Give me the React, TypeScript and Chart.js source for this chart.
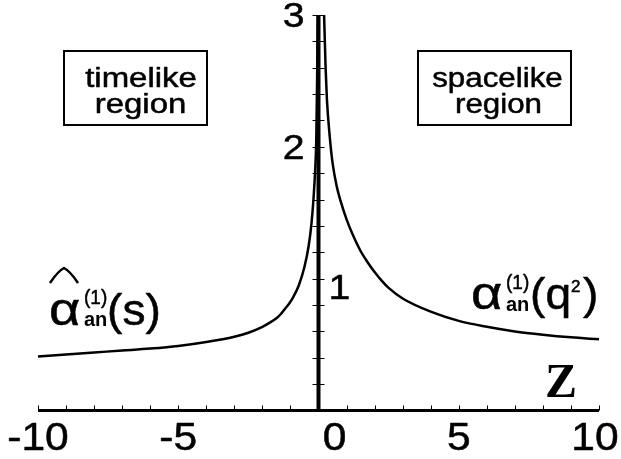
import React, { useEffect, useRef } from "react";
import { Chart, registerables } from "chart.js";

Chart.register(...registerables);

// Spacelike branch  alpha_an^(1)(q^2)
const spacelikeZ = [0.2, 0.25, 0.3, 0.4, 0.5, 0.65, 0.8, 1.0, 1.25, 1.5, 1.75, 2.0, 2.25, 2.5, 3.0, 4.0, 5.0, 6.0, 7.0, 8.0, 9.0, 10];
const spacelikeAlpha = [3.0, 2.62, 2.36, 2.08, 1.88, 1.7, 1.58, 1.45, 1.32, 1.21, 1.125, 1.05, 0.985, 0.93, 0.85, 0.75, 0.68, 0.635, 0.6, 0.575, 0.555, 0.54];

// Timelike branch  hat-alpha_an^(1)(s)
const timelikeZ = [-10, -9, -8, -7, -6, -5, -4, -3, -2.5, -2, -1.75, -1.5, -1.35, -1.2, -1.05, -0.9, -0.7, -0.5, -0.35, -0.25, -0.18, -0.12, -0.08, -0.05, -0.03];
const timelikeAlpha = [0.41, 0.425, 0.44, 0.455, 0.47, 0.49, 0.52, 0.56, 0.59, 0.635, 0.665, 0.7, 0.73, 0.77, 0.81, 0.86, 0.95, 1.09, 1.25, 1.42, 1.6, 1.82, 2.05, 2.5, 3.0];

// Axes
const xMinorTicks = [-10, -9, -8, -7, -6, -5, -4, -3, -2, -1, 0, 1, 2, 3, 4, 5, 6, 7, 8, 9, 10];
const xLabelValues = [-10, -5, 0, 5, 10];
const xLabels = ["-10", "-5", "0", "5", "10"];
const yMinorTicks = [0.2, 0.4, 0.6, 0.8, 1.0, 1.2, 1.4, 1.6, 1.8, 2.0, 2.2, 2.4, 2.6, 2.8, 3.0];
const yLabelValues = [1, 2, 3];
const yLabels = ["1", "2", "3"];
const axisTitle = "Z";
const regionLeft = ["timelike", "region"];
const regionRight = ["spacelike", "region"];

const SANS = '"Liberation Sans", Arial, Helvetica, sans-serif';

function txt(ctx: CanvasRenderingContext2D, s: string, x: number, y: number, font: string, align: CanvasTextAlign, hs = 1, heavy = 0.5) {
  ctx.save();
  ctx.font = font;
  ctx.translate(x, y);
  ctx.scale(hs, 1);
  ctx.textAlign = align;
  ctx.textBaseline = "alphabetic";
  ctx.fillStyle = "#000";
  ctx.fillText(s, 0, 0);
  if (heavy > 0) {
    ctx.strokeStyle = "#000";
    ctx.lineWidth = heavy;
    ctx.lineJoin = "round";
    ctx.strokeText(s, 0, 0);
  }
  ctx.restore();
}

const decorPlugin = {
  id: "decor",
  beforeDatasetsDraw(chart: any) {
    const ctx: CanvasRenderingContext2D = chart.ctx;
    const xs = chart.scales.x;
    const ys = chart.scales.y;
    const x0 = xs.getPixelForValue(0);
    const yb = ys.getPixelForValue(0);
    const yt = ys.getPixelForValue(3);
    const xl = xs.getPixelForValue(-10);
    const xr = xs.getPixelForValue(10);
    ctx.save();
    ctx.strokeStyle = "#000";
    // x axis
    ctx.lineWidth = 3;
    ctx.beginPath();
    ctx.moveTo(xl, yb);
    ctx.lineTo(xr, yb);
    ctx.stroke();
    // x ticks
    ctx.lineWidth = 1;
    xMinorTicks.forEach((v) => {
      const px = Math.round(xs.getPixelForValue(v)) + 0.5;
      ctx.beginPath();
      ctx.moveTo(px, yb);
      ctx.lineTo(px, yb - 5);
      ctx.stroke();
    });
    // y axis
    ctx.lineWidth = 4;
    ctx.beginPath();
    ctx.moveTo(x0, yb);
    ctx.lineTo(x0, yt);
    ctx.stroke();
    ctx.lineWidth = 1;
    yMinorTicks.forEach((v) => {
      const py = Math.round(ys.getPixelForValue(v)) + 0.5;
      ctx.beginPath();
      ctx.moveTo(x0 - 6, py);
      ctx.lineTo(x0 + 6, py);
      ctx.stroke();
    });
    ctx.restore();

    // x labels
    xLabelValues.forEach((v, i) => {
      let px = xs.getPixelForValue(v);
      if (v === 0) px += 16;
      if (v === 10) px -= 4;
      txt(ctx, xLabels[i], px, 450, "38px " + SANS, "center", 1.12);
    });
    // y labels
    yLabelValues.forEach((v, i) => {
      const py = ys.getPixelForValue(v);
      if (v === 1) {
        txt(ctx, yLabels[i], x0 + 10, py + 20, "35px " + SANS, "left", 1.12);
      } else {
        txt(ctx, yLabels[i], x0 - 14, py + 12, "35px " + SANS, "right", 1.12);
      }
    });
    // axis title
    txt(ctx, axisTitle, 545, 397, 'bold 48px "Liberation Serif", "Times New Roman", serif', "left", 1, 0);

    // region boxes
    ctx.save();
    ctx.strokeStyle = "#000";
    ctx.lineWidth = 2;
    ctx.strokeRect(64, 51, 143, 74);
    ctx.strokeRect(418, 51, 153, 74);
    ctx.restore();
    txt(ctx, regionLeft[0], 141, 87, "27px " + SANS, "center", 1.22);
    txt(ctx, regionLeft[1], 140.5, 113, "27px " + SANS, "center", 1.22);
    txt(ctx, regionRight[0], 497.5, 87, "27px " + SANS, "center", 1.16);
    txt(ctx, regionRight[1], 498.5, 113, "27px " + SANS, "center", 1.16);

    // curve labels: timelike
    txt(ctx, "α", 49, 325, "46px " + SANS, "left", 1.18);
    ctx.save();
    ctx.strokeStyle = "#000";
    ctx.lineWidth = 2.5;
    ctx.beginPath();
    ctx.moveTo(50, 283);
    ctx.quadraticCurveTo(58, 271, 64, 268);
    ctx.quadraticCurveTo(70, 271, 78, 283);
    ctx.stroke();
    ctx.restore();
    txt(ctx, "(1)", 84, 304, "20px " + SANS, "left", 0.95);
    txt(ctx, "an", 84, 326, "bold 20px " + SANS, "left", 1.0, 0);
    txt(ctx, "(s)", 107, 325, "44px " + SANS, "left", 1.05);

    // curve labels: spacelike
    txt(ctx, "α", 471, 309, "46px " + SANS, "left", 1.18);
    txt(ctx, "(1)", 506, 289, "20px " + SANS, "left", 0.95);
    txt(ctx, "an", 506, 311, "bold 20px " + SANS, "left", 1.0, 0);
    txt(ctx, "(q", 530, 309, "44px " + SANS, "left", 1.05);
    txt(ctx, "2", 571, 292, "17px " + SANS, "left", 1.0);
    txt(ctx, ")", 583, 309, "44px " + SANS, "left", 1.05);
  },
};

export default function App() {
  const ref = useRef<HTMLCanvasElement>(null);
  useEffect(() => {
    if (!ref.current) return;
    const chart = new Chart(ref.current, {
      type: "scatter",
      data: {
        datasets: [
          {
            label: "timelike",
            data: timelikeZ.map((z, i) => ({ x: z, y: timelikeAlpha[i] })),
            showLine: true,
            borderColor: "#000",
            borderWidth: 2.5,
            pointRadius: 0,
            cubicInterpolationMode: "monotone",
            clip: false,
          } as any,
          {
            label: "spacelike",
            data: spacelikeZ.map((z, i) => ({ x: z, y: spacelikeAlpha[i] })),
            showLine: true,
            borderColor: "#000",
            borderWidth: 2.5,
            pointRadius: 0,
            cubicInterpolationMode: "monotone",
            clip: false,
          } as any,
        ],
      },
      options: {
        animation: false,
        responsive: false,
        layout: { padding: { left: 38, right: 22, top: 15, bottom: 48.5 } },
        scales: {
          x: { type: "linear", min: -10, max: 10, display: false },
          y: { type: "linear", min: 0, max: 3, display: false },
        },
        plugins: { legend: { display: false }, tooltip: { enabled: false } },
        events: [],
      },
      plugins: [decorPlugin],
    });
    return () => chart.destroy();
  }, []);
  return (
    <div style={{ position: "absolute", left: 0, top: 0, width: 621, height: 459, background: "#fff" }}>
      <canvas ref={ref} width={621} height={459} style={{ display: "block" }} />
    </div>
  );
}
